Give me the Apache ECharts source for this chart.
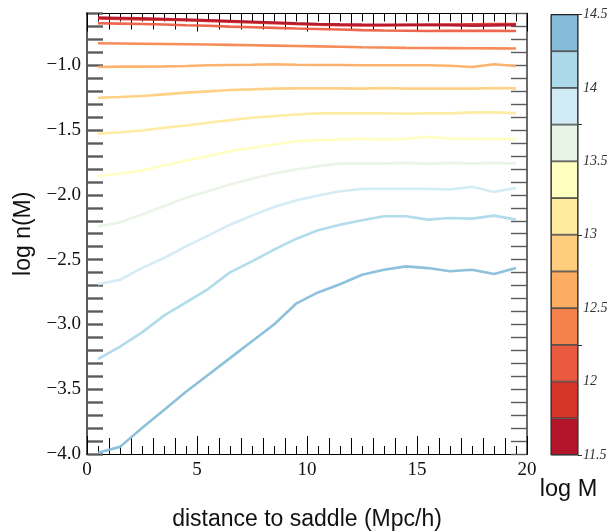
<!DOCTYPE html>
<html>
<head>
<meta charset="utf-8">
<script src="https://cdn.jsdelivr.net/npm/echarts@6/dist/echarts.min.js"></script>
<style>html,body{margin:0;padding:0;background:#fff}#c{width:610px;height:532px}</style>
</head>
<body>
<div id="c"></div>
<script>
// distance to saddle (Mpc/h), bin centres
const xValues = [0.5,1.5,2.5,3.5,4.5,5.5,6.5,7.5,8.5,9.5,10.5,11.5,12.5,13.5,14.5,15.5,16.5,17.5,18.5,19.5];
// log M bin centres
const massBins = [11.625,11.875,12.125,12.375,12.625,12.875,13.125,13.375,13.625,13.875,14.125,14.375];
// colour of each mass band (bottom to top of colour bar)
const bandColors = ['#b5152b','#d83529','#ea5a3e','#f5824a','#fdad61','#fecd7d','#fee99c','#ffffbf','#e8f4e6','#d0ebf3','#abd9e9','#84bcd9'];
// log n(M) for each mass bin
const logn_11625 = [-0.632,-0.635,-0.638,-0.642,-0.647,-0.652,-0.658,-0.664,-0.670,-0.676,-0.681,-0.684,-0.686,-0.687,-0.687,-0.688,-0.690,-0.695,-0.692,-0.688];
const logn_11875 = [-0.639,-0.642,-0.645,-0.648,-0.652,-0.657,-0.663,-0.669,-0.675,-0.681,-0.686,-0.690,-0.693,-0.692,-0.690,-0.688,-0.686,-0.684,-0.682,-0.681];
const logn_12125 = [-0.675,-0.678,-0.681,-0.685,-0.691,-0.695,-0.701,-0.706,-0.711,-0.716,-0.720,-0.724,-0.728,-0.731,-0.733,-0.735,-0.734,-0.733,-0.734,-0.735];
const logn_12375 = [-0.830,-0.831,-0.833,-0.835,-0.837,-0.839,-0.842,-0.845,-0.848,-0.851,-0.854,-0.857,-0.860,-0.862,-0.865,-0.866,-0.867,-0.868,-0.869,-0.870];
const logn_12625 = [-1.013,-1.010,-1.010,-1.008,-1.005,-1.000,-0.997,-0.995,-0.992,-0.995,-0.997,-0.997,-1.000,-1.000,-1.000,-1.000,-1.003,-1.013,-0.992,-1.005];
const logn_12875 = [-1.250,-1.245,-1.237,-1.224,-1.211,-1.201,-1.191,-1.186,-1.180,-1.178,-1.178,-1.178,-1.180,-1.175,-1.180,-1.180,-1.180,-1.180,-1.175,-1.178];
const logn_13125 = [-1.528,-1.516,-1.503,-1.482,-1.464,-1.443,-1.423,-1.405,-1.392,-1.379,-1.371,-1.371,-1.371,-1.371,-1.374,-1.371,-1.371,-1.363,-1.363,-1.369];
const logn_13375 = [-1.856,-1.835,-1.812,-1.773,-1.735,-1.701,-1.663,-1.637,-1.611,-1.585,-1.577,-1.572,-1.567,-1.572,-1.567,-1.552,-1.567,-1.567,-1.570,-1.570];
const logn_13625 = [-2.243,-2.212,-2.152,-2.088,-2.023,-1.972,-1.920,-1.876,-1.835,-1.804,-1.779,-1.758,-1.758,-1.758,-1.753,-1.760,-1.753,-1.758,-1.753,-1.758];
const logn_13875 = [-2.690,-2.655,-2.565,-2.487,-2.397,-2.315,-2.230,-2.160,-2.093,-2.044,-2.005,-1.972,-1.954,-1.954,-1.954,-1.954,-1.959,-1.938,-1.977,-1.946];
const logn_14125 = [-3.268,-3.171,-3.061,-2.932,-2.830,-2.727,-2.598,-2.513,-2.423,-2.340,-2.273,-2.230,-2.196,-2.165,-2.165,-2.191,-2.178,-2.183,-2.160,-2.191];
const logn_14375 = [-3.990,-3.945,-3.800,-3.660,-3.520,-3.390,-3.260,-3.130,-3.000,-2.840,-2.753,-2.690,-2.616,-2.578,-2.552,-2.565,-2.590,-2.578,-2.610,-2.565];
const lognSeries = [logn_11625,logn_11875,logn_12125,logn_12375,logn_12625,logn_12875,logn_13125,logn_13375,logn_13625,logn_13875,logn_14125,logn_14375];
// tick labels
const xTickLabels = [0,5,10,15,20];
const yTickLabels = [-4.0,-3.5,-3.0,-2.5,-2.0,-1.5,-1.0];
const cbTickLabels = [11.5,12,12.5,13,13.5,14,14.5];
const cbTickMarks = [11.5,12.25,13,13.75,14.5];
const cbEdge = 11.5;
const cbStep = 0.25;

const serif = 'Liberation Serif';
const sans = 'Liberation Sans';
const yGray = '#5a5a5a';
const plotRect = {left:87, right:83, top:13.5, bottom:78, outerBoundsMode:'none', containLabel:false};

function xAx(grid, pos, interval, tickLen, minorLen, labels, name) {
  return {
    type:'value', gridIndex:grid, position:pos, min:0, max:20, interval:interval,
    axisLine:{show:true, onZero:false, lineStyle:{color:'#000', width:1.2}},
    axisTick:{show:tickLen>0, inside:true, length:tickLen, lineStyle:{color:'#000', width:1}},
    minorTick:{show:minorLen>0, splitNumber:2, length:minorLen, lineStyle:{color:'#000', width:1}},
    axisLabel:{show:labels, customValues: labels ? xTickLabels : undefined, color:'#111', fontFamily:serif, fontSize:19, margin:7},
    splitLine:{show:false}, minorSplitLine:{show:false},
    name: name || '', nameLocation:'middle', nameGap:54,
    nameTextStyle:{fontFamily:sans, fontSize:23, color:'#111'}
  };
}
function yAx(grid, pos, labels, name) {
  return {
    type:'value', gridIndex:grid, position:pos, min:-4, max:-0.6, interval:0.1,
    axisLine:{show:true, onZero:false, lineStyle:{color:yGray, width:1.8}},
    axisTick:{show:true, inside:true, length:16, lineStyle:{color:yGray, width:1.4}},
    axisLabel:{show:labels, customValues:yTickLabels, color:'#111', fontFamily:serif, fontSize:19, margin:6,
      formatter:v => (v<0?'\u2212':'') + Math.abs(v).toFixed(1)},
    splitLine:{show:false},
    name: name || '', nameLocation:'middle', nameGap:45,
    nameTextStyle:{fontFamily:sans, fontSize:23, color:'#111'}
  };
}

const series = [];
// high mass first so lower-mass lines are drawn on top
for (let i = massBins.length - 1; i >= 0; i--) {
  series.push({
    type:'line', xAxisIndex:0, yAxisIndex:0, name:String(massBins[i]),
    data: xValues.map((x,k) => [x, lognSeries[i][k]]),
    symbol:'none', clip:true,
    lineStyle:{color:bandColors[i], width:2.6, opacity:0.92},
    z:2
  });
}
// colour bar (stacked bands)
series.push({type:'bar', xAxisIndex:6, yAxisIndex:6, stack:'cb', data:[cbEdge], barWidth:'100%',
  itemStyle:{color:'rgba(0,0,0,0)'}, silent:true});
bandColors.forEach(c => {
  series.push({type:'bar', xAxisIndex:6, yAxisIndex:6, stack:'cb', data:[cbStep], barWidth:'100%',
    itemStyle:{color:c, borderColor:'#333', borderWidth:0.8}, silent:true});
});

const option = {
  animation:false,
  backgroundColor:'#fff',
  grid:[
    Object.assign({}, plotRect),
    Object.assign({}, plotRect),
    Object.assign({}, plotRect),
    Object.assign({}, plotRect),
    Object.assign({}, plotRect),
    Object.assign({}, plotRect),
    {left:551, width:27, top:14.5, bottom:77, outerBoundsMode:'none', containLabel:false, show:true, borderColor:'#222', borderWidth:1, backgroundColor:'transparent', z:5}
  ],
  xAxis:[
    xAx(0, 'bottom', 5, 18, 0, true, 'distance to saddle (Mpc/h)'),
    xAx(1, 'bottom', 1, 16, 8, false),
    xAx(2, 'top', 5, 18, 0, false),
    xAx(3, 'top', 1, 16, 8, false),
    xAx(4, 'bottom', 1, 0, 0, false),
    xAx(5, 'bottom', 1, 0, 0, false),
    {type:'category', gridIndex:6, data:['log M'], position:'bottom',
     axisLine:{show:false}, axisTick:{show:false}, axisLabel:{show:false},
     name:'log M', nameLocation:'middle', nameGap:23,
     nameTextStyle:{fontFamily:sans, fontSize:23.5, color:'#111', padding:[0,0,0,8]}}
  ],
  yAxis:[
    yAx(0, 'left', true, 'log n(M)'),
    yAx(1, 'left', false),
    yAx(2, 'left', false),
    yAx(3, 'left', false),
    yAx(4, 'right', false),
    yAx(5, 'left', false),
    {type:'value', gridIndex:6, position:'right', min:11.5, max:14.5,
     axisLine:{show:false}, splitLine:{show:false},
     axisTick:{show:true, inside:false, length:4, customValues:cbTickMarks, lineStyle:{color:'#333'}},
     axisLabel:{show:true, customValues:cbTickLabels, margin:5, color:'#333', fontFamily:serif, fontStyle:'italic', fontSize:14,
       formatter:v => String(v)}}
  ],
  series: series
};
const chart = echarts.init(document.getElementById('c'), null, {renderer:'canvas'});
chart.setOption(option);
</script>
</body>
</html>
